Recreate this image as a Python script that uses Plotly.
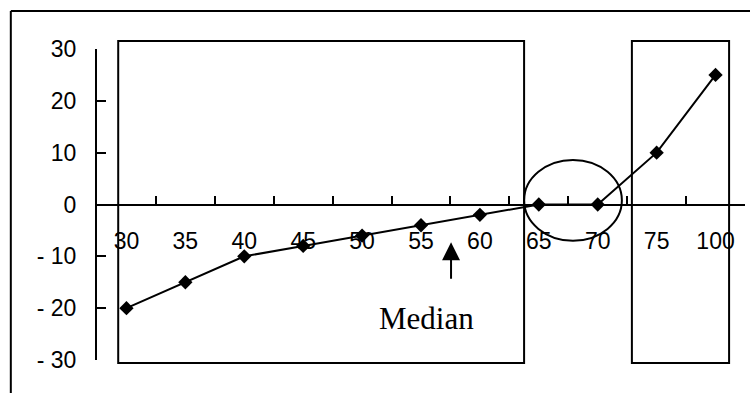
import plotly.graph_objects as go

categories = ["30", "35", "40", "45", "50", "55", "60", "65", "70", "75", "100"]
values = [-20, -15, -10, -8, -6, -4, -2, 0, 0, 10, 25]
y_tickvals = [30, 20, 10, 0, -10, -20, -30]
y_ticktext = ["30", "20", "10", "0", "- 10", "- 20", "- 30"]
median_label = "Median"

fig = go.Figure()
fig.add_trace(go.Scatter(
    x=categories, y=values, mode="lines+markers",
    line=dict(color="black", width=2),
    marker=dict(symbol="diamond", size=11, color="black"),
    showlegend=False, cliponaxis=False,
))

tickfont = dict(family="Liberation Sans, Arial, sans-serif", size=23, color="black")

fig.update_layout(
    width=750, height=393,
    margin=dict(l=97, r=5, t=49, b=33, autoexpand=False),
    paper_bgcolor="white", plot_bgcolor="white",
    xaxis=dict(
        type="category", range=[-0.5, 10.5], automargin=False,
        anchor="free", position=0.5,
        showline=True, linecolor="black", linewidth=2,
        ticks="inside", tickson="boundaries", ticklen=8, tickwidth=2, tickcolor="black",
        showgrid=False, zeroline=False,
        tickfont=tickfont, ticklabelstandoff=16,
    ),
    yaxis=dict(
        range=[-30, 30], domain=[0, 1], automargin=False,
        tickmode="array", tickvals=y_tickvals, ticktext=y_ticktext,
        showline=True, linecolor="black", linewidth=2,
        ticks="inside", ticklen=9, tickwidth=2, tickcolor="black",
        showgrid=False, zeroline=False,
        tickfont=tickfont, ticklabelstandoff=14,
    ),
)

# outer frame (top and left edges)
fig.add_shape(type="line", xref="paper", yref="paper", x0=-0.133, x1=1.02, y0=1.122, y1=1.122,
              line=dict(color="black", width=2))
fig.add_shape(type="line", xref="paper", yref="paper", x0=-0.133, x1=-0.133, y0=1.122, y1=-0.12,
              line=dict(color="black", width=2))

# highlight boxes (paper y so the edges outside the axis range are not clipped)
fig.add_shape(type="rect", xref="x", yref="paper", x0=-0.14, x1=6.75, y0=-0.0097, y1=1.0257,
              line=dict(color="black", width=2))
fig.add_shape(type="rect", xref="x", yref="paper", x0=8.58, x1=10.23, y0=-0.0097, y1=1.0257,
              line=dict(color="black", width=2))
# circle around the zero values
fig.add_shape(type="circle", xref="x", yref="y", x0=6.75, x1=8.41, y0=-7.0, y1=8.6,
              line=dict(color="black", width=2))

# median arrow and label
fig.add_annotation(x=5.51, y=-7.3, xref="x", yref="y", text="", showarrow=True,
                   ax=0, ay=38, arrowhead=2, arrowsize=1.8, arrowwidth=2, arrowcolor="black")
fig.add_annotation(x=5.09, y=-21.9, xref="x", yref="y", text=median_label, showarrow=False,
                   font=dict(family="Liberation Serif, Times New Roman, serif", size=31, color="black"),
                   xanchor="center", yanchor="middle")

fig.write_html("out.html", config={"displayModeBar": False},
               post_script="document.body.style.margin='0px';")
